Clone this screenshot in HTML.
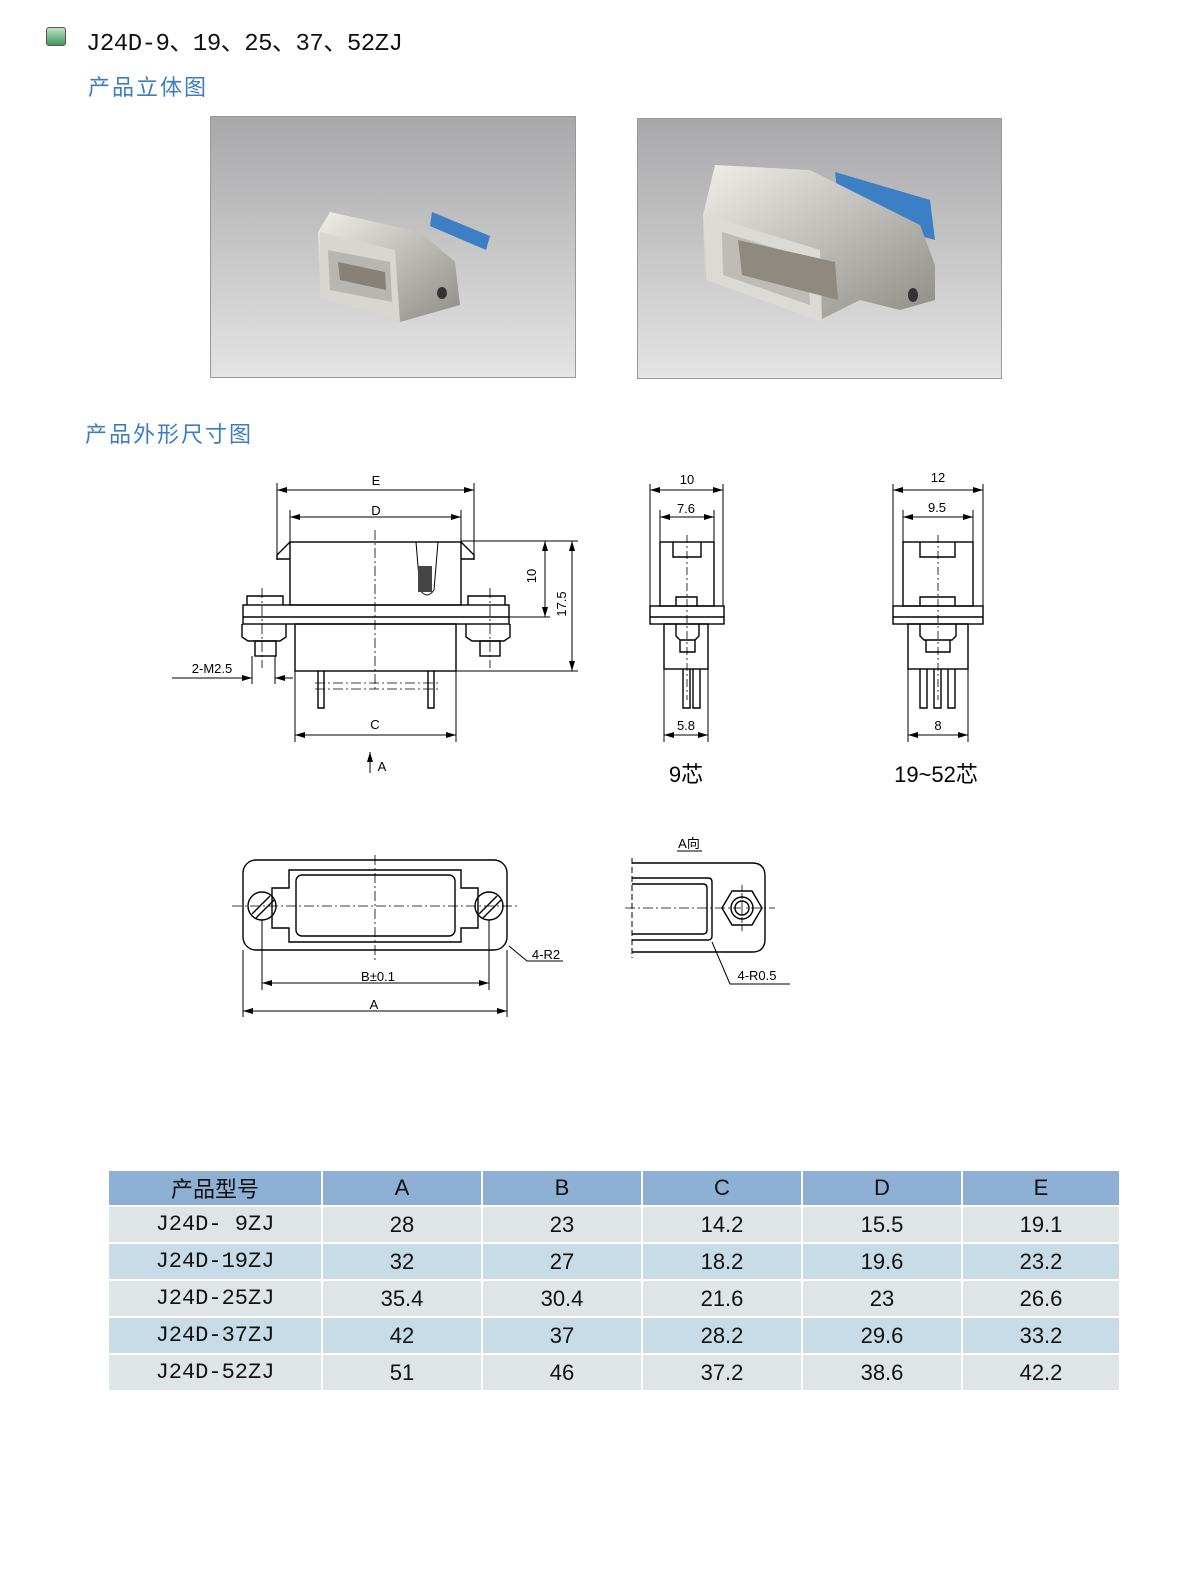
<!DOCTYPE html>
<html><head><meta charset="utf-8"><style>
html,body{margin:0;padding:0;background:#fff;}
body{width:1200px;height:1586px;position:relative;overflow:hidden;font-family:"Liberation Sans","Noto Sans CJK SC",sans-serif;}
.t{position:absolute;white-space:nowrap;}
table{position:absolute;left:107px;top:1169px;border-collapse:collapse;table-layout:fixed;width:1012px;}
td{padding:0;text-align:center;border:2px solid #fff;font-size:22px;color:#111;height:37px;box-sizing:border-box;}
tr.h td{background:#8eb0d5;height:36px;}
tr.g td{background:#dfe4e7;}
tr.b td{background:#c8dce8;}
td.m{font-family:"Liberation Mono","Noto Sans CJK SC",monospace;}
</style></head><body>
<div class="t" style="left:46px;top:27px;width:18px;height:17px;border:1px solid #555;border-radius:3px;background:linear-gradient(#bfe3c8,#3f9a5f);"></div>
<div class="t" style="left:86px;top:22px;font-size:24px;font-family:'Liberation Mono','Noto Sans CJK SC',monospace;color:#111;letter-spacing:-0.5px">J24D-9、19、25、37、52ZJ</div>
<div class="t" style="left:88px;top:70px;font-size:22px;color:#3c7dc2;letter-spacing:2px">产品立体图</div>
<div class="t" style="left:85px;top:417px;font-size:22px;color:#3c7dc2;letter-spacing:2px">产品外形尺寸图</div>

<svg width="1200" height="1586" style="position:absolute;left:0;top:0">
<defs>
<linearGradient id="bg" x1="0" y1="0" x2="0" y2="1"><stop offset="0" stop-color="#a8a8aa"/><stop offset="1" stop-color="#e4e4e4"/></linearGradient>
<linearGradient id="mt" x1="0" y1="0" x2="1" y2="1"><stop offset="0" stop-color="#f0eee8"/><stop offset="1" stop-color="#8e8c86"/></linearGradient>
<marker id="ar" markerWidth="10" markerHeight="6" refX="10" refY="3" orient="auto-start-reverse" markerUnits="userSpaceOnUse"><path d="M0,0 L10,3 L0,6z" fill="#000"/></marker>
</defs>
<rect x="210.5" y="116.5" width="365" height="261" fill="url(#bg)" stroke="#999"/>
<g>
<path d="M432 212 L490 236 L486 250 L430 226z" fill="#3d7fc4"/>
<path d="M330 212 L420 232 L455 262 L460 305 L400 322 L320 298 L318 232z" fill="url(#mt)"/>
<path d="M320 232 L395 250 L400 322 L320 298z" fill="#d8d6d0"/>
<path d="M328 250 L390 262 L392 302 L330 290z" fill="#b8b6b0"/>
<path d="M338 262 L385 272 L386 290 L340 280z" fill="#86827a"/>
<ellipse cx="442" cy="293" rx="5" ry="6" fill="#333"/>
</g>
<rect x="637.5" y="118.5" width="364" height="260" fill="url(#bg)" stroke="#999"/>
<g>
<path d="M835 172 L930 200 L935 240 L840 215z" fill="#3d7fc4"/>
<path d="M715 165 L810 170 L920 225 L935 265 L935 300 L900 310 L860 300 L820 320 L705 280 L703 215z" fill="url(#mt)"/>
<path d="M705 215 L820 250 L822 322 L706 280z" fill="#dcdad4"/>
<path d="M722 232 L808 258 L810 305 L723 275z" fill="#bebcb5"/>
<path d="M738 240 L835 262 L838 300 L742 275z" fill="#8e8a80"/>
<ellipse cx="913" cy="295" rx="5" ry="7" fill="#333"/>
</g>

<g fill="none" stroke="#000" stroke-width="1.4">
<line x1="277" y1="483" x2="277" y2="560" stroke-width="1"/><line x1="474" y1="483" x2="474" y2="560" stroke-width="1"/>
<line x1="277" y1="490" x2="474" y2="490" stroke-width="1" marker-start="url(#ar)" marker-end="url(#ar)"/>
<line x1="290" y1="510" x2="290" y2="545" stroke-width="1"/><line x1="461" y1="510" x2="461" y2="545" stroke-width="1"/>
<line x1="290" y1="517" x2="461" y2="517" stroke-width="1" marker-start="url(#ar)" marker-end="url(#ar)"/>
<rect x="290" y="542" width="171" height="63"/>
<path d="M290 542 L277 555 L277 559 L290 559 M461 542 L474 555 L474 559 L461 559"/>
<path d="M416 542 L420 590 Q427 600 434 590 L438 542" stroke-width="1"/>
<rect x="418" y="566" width="14" height="26" fill="#444" stroke="none"/>
<rect x="243" y="605" width="266" height="19"/><line x1="243" y1="617" x2="509" y2="617"/>
<path d="M247 605 V596 H283 V605 M468 605 V596 H505 V605"/>
<rect x="295" y="624" width="161" height="47"/>
<path d="M242 624 V637 L248 641 H280 L286 637 V624 M466 624 V637 L472 641 H504 L510 637 V624"/>
<rect x="255" y="641" width="21" height="15"/><rect x="480" y="641" width="20" height="15"/>
<path d="M318 671 V708 H324 V671 M428 671 V708 H434 V671"/>
<g stroke-dasharray="10,3,2,3" stroke-width="0.8"><line x1="375" y1="530" x2="375" y2="692"/><line x1="262" y1="588" x2="262" y2="668"/><line x1="490" y1="588" x2="490" y2="668"/><line x1="315" y1="683" x2="438" y2="683"/><line x1="315" y1="689" x2="438" y2="689"/></g>
<line x1="461" y1="541" x2="578" y2="541" stroke-width="1"/><line x1="509" y1="617" x2="550" y2="617" stroke-width="1"/><line x1="456" y1="671" x2="578" y2="671" stroke-width="1"/>
<line x1="545" y1="541" x2="545" y2="617" stroke-width="1" marker-start="url(#ar)" marker-end="url(#ar)"/>
<line x1="572" y1="541" x2="572" y2="671" stroke-width="1" marker-start="url(#ar)" marker-end="url(#ar)"/>
<line x1="295" y1="671" x2="295" y2="742" stroke-width="1"/><line x1="456" y1="671" x2="456" y2="742" stroke-width="1"/>
<line x1="295" y1="735" x2="456" y2="735" stroke-width="1" marker-start="url(#ar)" marker-end="url(#ar)"/>
<line x1="370" y1="773" x2="370" y2="752" stroke-width="1" marker-end="url(#ar)"/>
<line x1="252" y1="656" x2="252" y2="684" stroke-width="1"/><line x1="275" y1="656" x2="275" y2="684" stroke-width="1"/>
<line x1="172" y1="678" x2="252" y2="678" stroke-width="1" marker-end="url(#ar)"/><line x1="293" y1="678" x2="275" y2="678" stroke-width="1" marker-end="url(#ar)"/>

<line x1="650" y1="484" x2="650" y2="606" stroke-width="1"/><line x1="723" y1="484" x2="723" y2="606" stroke-width="1"/>
<line x1="650" y1="490" x2="723" y2="490" stroke-width="1" marker-start="url(#ar)" marker-end="url(#ar)"/>
<line x1="660" y1="510" x2="660" y2="542" stroke-width="1"/><line x1="714" y1="510" x2="714" y2="542" stroke-width="1"/>
<line x1="660" y1="517" x2="714" y2="517" stroke-width="1" marker-start="url(#ar)" marker-end="url(#ar)"/>
<rect x="660" y="542" width="54" height="64"/>
<path d="M673 542 V557 H701 V542"/>
<path d="M676 606 V597 H697 V606"/>
<rect x="650" y="606" width="74" height="18"/><line x1="650" y1="617" x2="724" y2="617"/>
<rect x="664" y="624" width="44" height="45"/>
<path d="M676 624 V636 L680 640 H695 L699 636 V624 M680 640 V652 H695 V640"/>
<path d="M683 669 V708 H690 V669 M693 669 V708 H700 V669"/>
<line x1="664" y1="669" x2="664" y2="742" stroke-width="1"/><line x1="708" y1="669" x2="708" y2="742" stroke-width="1"/>
<line x1="664" y1="735" x2="708" y2="735" stroke-width="1" marker-start="url(#ar)" marker-end="url(#ar)"/>
<line x1="687" y1="535" x2="687" y2="700" stroke-width="0.8" stroke-dasharray="8,3,2,3"/>

<line x1="893" y1="484" x2="893" y2="606" stroke-width="1"/><line x1="983" y1="484" x2="983" y2="606" stroke-width="1"/>
<line x1="893" y1="490" x2="983" y2="490" stroke-width="1" marker-start="url(#ar)" marker-end="url(#ar)"/>
<line x1="903" y1="510" x2="903" y2="542" stroke-width="1"/><line x1="973" y1="510" x2="973" y2="542" stroke-width="1"/>
<line x1="903" y1="517" x2="973" y2="517" stroke-width="1" marker-start="url(#ar)" marker-end="url(#ar)"/>
<rect x="903" y="542" width="70" height="64"/>
<path d="M920 542 V557 H955 V542"/>
<path d="M920 606 V597 H955 V606"/>
<rect x="893" y="606" width="90" height="18"/><line x1="893" y1="617" x2="983" y2="617"/>
<rect x="908" y="624" width="60" height="45"/>
<path d="M920 624 V636 L924 640 H952 L956 636 V624 M926 640 V652 H950 V640"/>
<path d="M920 669 V708 H927 V669 M934 669 V708 H941 V669 M948 669 V708 H955 V669"/>
<line x1="908" y1="669" x2="908" y2="742" stroke-width="1"/><line x1="968" y1="669" x2="968" y2="742" stroke-width="1"/>
<line x1="908" y1="735" x2="968" y2="735" stroke-width="1" marker-start="url(#ar)" marker-end="url(#ar)"/>
<line x1="938" y1="535" x2="938" y2="700" stroke-width="0.8" stroke-dasharray="8,3,2,3"/>

<rect x="243" y="860" width="264" height="90" rx="13"/>
<path d="M289 870 H461 V888 H478 V928 H461 V942 H289 V928 H272 V888 H289z"/>
<rect x="296" y="875" width="159" height="61" rx="6"/>
<circle cx="262" cy="906" r="14"/><circle cx="489" cy="906" r="14"/>
<path d="M252 914 L270 896 M256 918 L274 900 M479 914 L497 896 M483 918 L501 900"/>
<g stroke-dasharray="10,3,2,3" stroke-width="0.8"><line x1="232" y1="906" x2="520" y2="906"/><line x1="375" y1="855" x2="375" y2="962"/></g>
<line x1="243" y1="950" x2="243" y2="1017" stroke-width="1"/><line x1="507" y1="950" x2="507" y2="1017" stroke-width="1"/>
<line x1="262" y1="920" x2="262" y2="990" stroke-width="1"/><line x1="489" y1="920" x2="489" y2="990" stroke-width="1"/>
<line x1="262" y1="983" x2="489" y2="983" stroke-width="1" marker-start="url(#ar)" marker-end="url(#ar)"/>
<line x1="243" y1="1011" x2="507" y2="1011" stroke-width="1" marker-start="url(#ar)" marker-end="url(#ar)"/>
<polyline points="563,961 527,961 509,946" stroke-width="1"/>
<path d="M632 863 H752 Q765 863 765 876 V939 Q765 952 752 952 H632"/>
<path d="M632 878 H708 Q712 878 712 882 V936 Q712 940 708 940 H632"/>
<path d="M632 884 H703 Q707 884 707 888 V930 Q707 934 703 934 H632"/>
<line x1="632" y1="858" x2="632" y2="958" stroke-dasharray="6,3" stroke-width="1"/>
<polygon points="722,908 732,891 752,891 762,908 752,925 732,925"/>
<circle cx="742" cy="908" r="11"/><circle cx="742" cy="908" r="7"/>
<line x1="625" y1="908" x2="775" y2="908" stroke-width="0.8" stroke-dasharray="10,3,2,3"/>
<line x1="742" y1="885" x2="742" y2="932" stroke-width="0.8" stroke-dasharray="6,2"/>
<polyline points="790,984 730,984 712,942" stroke-width="1"/>
<line x1="677" y1="851" x2="702" y2="851" stroke-width="1"/>
</g>
<g font-family="Liberation Sans, Noto Sans CJK SC, sans-serif" font-size="13" fill="#000" text-anchor="middle">
<text x="376" y="485">E</text><text x="376" y="515">D</text>
<text x="375" y="729">C</text><text x="382" y="771">A</text>
<text x="212" y="673">2-M2.5</text>
<text transform="translate(536,576) rotate(-90)">10</text>
<text transform="translate(566,604) rotate(-90)">17.5</text>
<text x="687" y="484">10</text><text x="686" y="513">7.6</text><text x="686" y="730">5.8</text>
<text x="938" y="482">12</text><text x="937" y="512">9.5</text><text x="938" y="730">8</text>
<text x="686" y="782" font-size="22">9芯</text>
<text x="936" y="782" font-size="22">19~52芯</text>
<text x="378" y="981">B±0.1</text><text x="374" y="1009">A</text>
<text x="546" y="959">4-R2</text><text x="757" y="980">4-R0.5</text>
<text x="689" y="848">A向</text>
</g>
</svg>

<table>
<colgroup><col style="width:214px"><col style="width:160px"><col style="width:160px"><col style="width:160px"><col style="width:160px"><col style="width:158px"></colgroup>
<tr class="h"><td>产品型号</td><td>A</td><td>B</td><td>C</td><td>D</td><td>E</td></tr>
<tr class="g"><td class="m">J24D- 9ZJ</td><td>28</td><td>23</td><td>14.2</td><td>15.5</td><td>19.1</td></tr>
<tr class="b"><td class="m">J24D-19ZJ</td><td>32</td><td>27</td><td>18.2</td><td>19.6</td><td>23.2</td></tr>
<tr class="g"><td class="m">J24D-25ZJ</td><td>35.4</td><td>30.4</td><td>21.6</td><td>23</td><td>26.6</td></tr>
<tr class="b"><td class="m">J24D-37ZJ</td><td>42</td><td>37</td><td>28.2</td><td>29.6</td><td>33.2</td></tr>
<tr class="g"><td class="m">J24D-52ZJ</td><td>51</td><td>46</td><td>37.2</td><td>38.6</td><td>42.2</td></tr>
</table>
</body></html>
